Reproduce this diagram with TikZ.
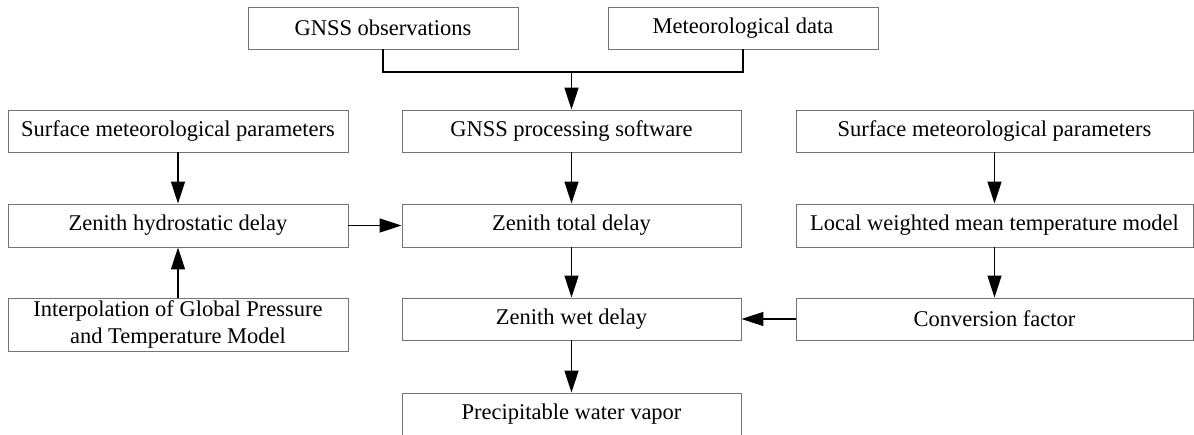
\documentclass[tikz,border=0pt]{standalone}
\usepackage{fontspec}
\setmainfont{Liberation Serif}
\newfontfamily\tnr{Liberation Serif}
\usetikzlibrary{arrows.meta}
\begin{document}
\begin{tikzpicture}[x=1pt,y=-1pt,
  box/.style={draw=black!55, line width=0.9pt, inner sep=0pt, align=center,
    font=\tnr\fontsize{22.5}{27}\selectfont},
  conn/.style={draw=black, line width=1.4pt},
  arr/.style={conn, -{Triangle[length=22pt,width=14pt]}}]
\useasboundingbox (0,0) rectangle (1194,434);
\node[box, minimum width=270pt, minimum height=42pt] (obs) at (383,28) {GNSS observations};
\node[box, minimum width=270pt, minimum height=42pt] (met) at (743,28) {Meteorological data};
\node[box, minimum width=339pt, minimum height=42pt] (proc) at (571.5,131) {GNSS processing software};
\node[box, minimum width=340pt, minimum height=42pt] (sl) at (178,131) {Surface meteorological parameters};
\node[box, minimum width=397pt, minimum height=42pt] (sr) at (994.5,131) {Surface meteorological parameters};
\node[box, minimum width=340pt, minimum height=43pt] (zhd) at (178,225.5) {Zenith hydrostatic delay};
\node[box, minimum width=339pt, minimum height=43pt] (ztd) at (571.5,225.5) {Zenith total delay};
\node[box, minimum width=397pt, minimum height=43pt] (lw) at (994.5,225.5) {Local weighted mean temperature model};
\node[box, minimum width=340pt, minimum height=53pt] (ip) at (178,324.5) {Interpolation of Global Pressure\\and Temperature Model};
\node[box, minimum width=339pt, minimum height=42pt] (zwd) at (571.5,319) {Zenith wet delay};
\node[box, minimum width=397pt, minimum height=42pt] (cf) at (994.5,319) {Conversion factor};
\node[box, minimum width=339pt, minimum height=43pt] (pwv) at (571.5,414.5) {Precipitable water vapor};
\coordinate (j) at (571.5,72);
\draw[conn] (obs.south) |- (j) -| (met.south);
\draw[arr] (j) -- (proc.north);
\draw[arr] (sl.south) -- (zhd.north);
\draw[arr] (ip.north) -- (zhd.south);
\draw[arr] (zhd.east) -- (ztd.west);
\draw[arr] (proc.south) -- (ztd.north);
\draw[arr] (ztd.south) -- (zwd.north);
\draw[arr] (zwd.south) -- (pwv.north);
\draw[arr] (sr.south) -- (lw.north);
\draw[arr] (lw.south) -- (cf.north);
\draw[arr] (cf.west) -- (zwd.east);
\end{tikzpicture}
\end{document}
